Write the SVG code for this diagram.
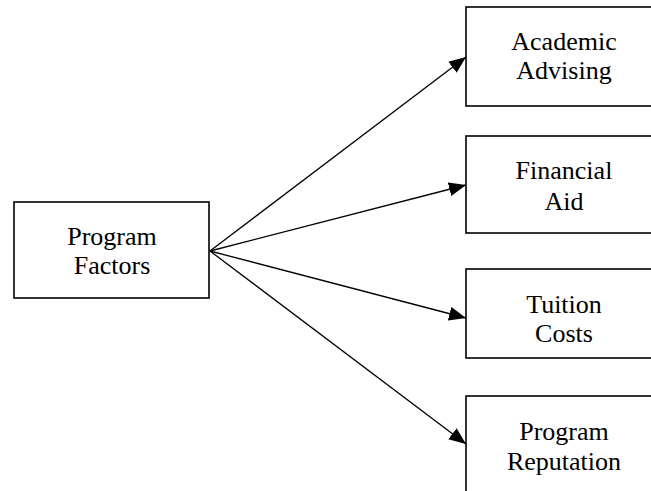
<svg xmlns="http://www.w3.org/2000/svg" width="651" height="491" viewBox="0 0 651 491">
  <style>
    .box { fill: #ffffff; stroke: #000000; stroke-width: 1.6; }
    .lbl { font-family: "Liberation Serif", "Times New Roman", serif; font-size: 26px; fill: #000000; text-anchor: middle; }
    .edge { stroke: #000000; stroke-width: 1.3; fill: none; marker-end: url(#arrow); }
  </style>
  <defs>
    <marker id="arrow" markerUnits="userSpaceOnUse" markerWidth="18" markerHeight="14" refX="17" refY="7" orient="auto">
      <path d="M0,0 L17,7 L0,14 Z" fill="#000000"/>
    </marker>
  </defs>
  <rect width="651" height="491" fill="#ffffff"/>

  <g id="connectors">
    <line class="edge" x1="210" y1="251" x2="466" y2="57"/>
    <line class="edge" x1="210" y1="251" x2="466" y2="185"/>
    <line class="edge" x1="210" y1="251" x2="466" y2="318"/>
    <line class="edge" x1="210" y1="251" x2="466" y2="444"/>
  </g>

  <g id="program-factors">
    <rect class="box" x="14" y="202" width="195" height="96"/>
    <text class="lbl" x="112" y="245">Program</text>
    <text class="lbl" x="112" y="274">Factors</text>
  </g>

  <g id="academic-advising">
    <rect class="box" x="466" y="7" width="195" height="99"/>
    <text class="lbl" x="564" y="50">Academic</text>
    <text class="lbl" x="564" y="79">Advising</text>
  </g>

  <g id="financial-aid">
    <rect class="box" x="466" y="136" width="195" height="97"/>
    <text class="lbl" x="564" y="179">Financial</text>
    <text class="lbl" x="564" y="210">Aid</text>
  </g>

  <g id="tuition-costs">
    <rect class="box" x="466" y="269" width="195" height="89"/>
    <text class="lbl" x="564" y="313">Tuition</text>
    <text class="lbl" x="564" y="342">Costs</text>
  </g>

  <g id="program-reputation">
    <rect class="box" x="466" y="396" width="195" height="110"/>
    <text class="lbl" x="564" y="440">Program</text>
    <text class="lbl" x="564" y="470">Reputation</text>
  </g>
</svg>
